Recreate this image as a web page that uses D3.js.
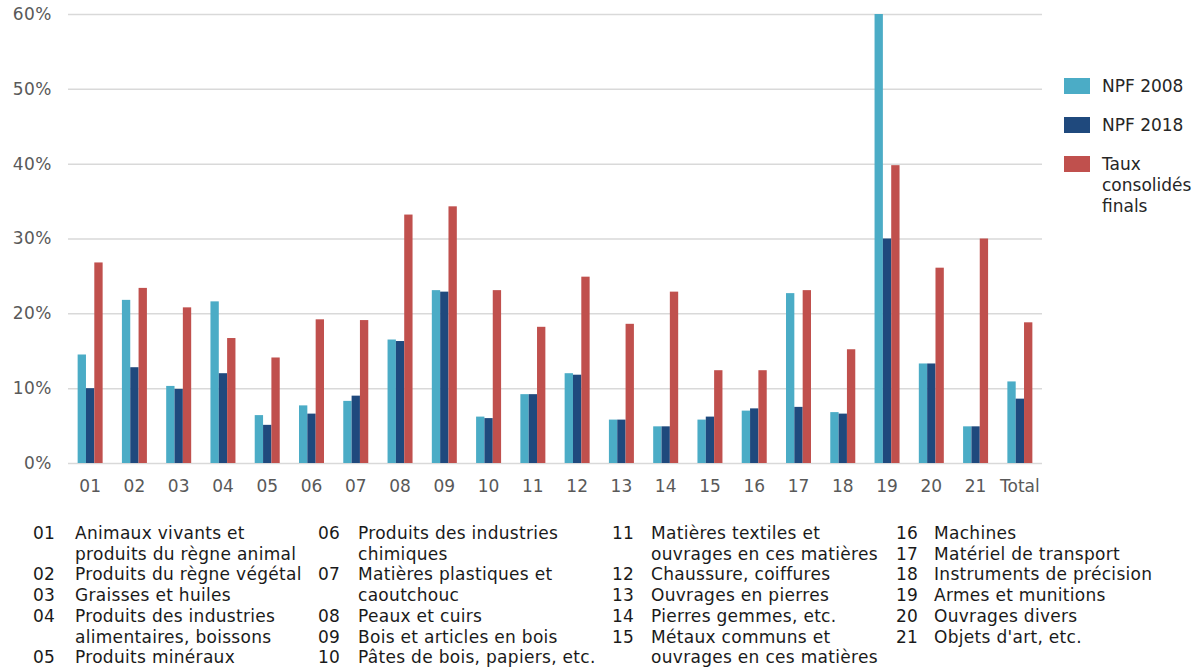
<!DOCTYPE html>
<html>
<head>
<meta charset="utf-8">
<script src="https://cdn.jsdelivr.net/npm/d3@7"></script>
<style>
  html, body { margin: 0; padding: 0; background: #ffffff; }
  svg { display: block; font-family: "DejaVu Sans", Verdana, sans-serif; }
</style>
</head>
<body>
<svg id="chart" width="1203" height="671"></svg>
<script>
// Chapter codes of the tariff nomenclature
const categories = ["01","02","03","04","05","06","07","08","09","10","11","12","13","14","15","16","17","18","19","20","21","Total"];

// Average duties (%) per chapter
const npf2008 = [14.5, 21.8, 10.3, 21.6, 6.4, 7.7, 8.3, 16.5, 23.1, 6.2, 9.2, 12.0, 5.8, 4.9, 5.8, 7.0, 22.7, 6.8, 60.0, 13.3, 4.9, 10.9];
const npf2018 = [10.0, 12.8, 9.9, 12.0, 5.1, 6.6, 9.0, 16.3, 22.9, 6.0, 9.2, 11.8, 5.8, 4.9, 6.2, 7.3, 7.5, 6.6, 30.0, 13.3, 4.9, 8.6];
const tauxConsolides = [26.8, 23.4, 20.8, 16.7, 14.1, 19.2, 19.1, 33.2, 34.3, 23.1, 18.2, 24.9, 18.6, 22.9, 12.4, 12.4, 23.1, 15.2, 39.8, 26.1, 30.0, 18.8];

const seriesNames = ["NPF 2008", "NPF 2018", "Taux consolidés finals"];
const seriesColors = ["#4BACC6", "#1F497D", "#C0504D"];

const yTicks = [0, 10, 20, 30, 40, 50, 60];

// Chapter descriptions shown under the chart, laid out in four columns
const chapterColumns = [
  [["01", ["Animaux vivants et", "produits du règne animal"]],
   ["02", ["Produits du règne végétal"]],
   ["03", ["Graisses et huiles"]],
   ["04", ["Produits des industries", "alimentaires, boissons"]],
   ["05", ["Produits minéraux"]]],
  [["06", ["Produits des industries", "chimiques"]],
   ["07", ["Matières plastiques et", "caoutchouc"]],
   ["08", ["Peaux et cuirs"]],
   ["09", ["Bois et articles en bois"]],
   ["10", ["Pâtes de bois, papiers, etc."]]],
  [["11", ["Matières textiles et", "ouvrages en ces matières"]],
   ["12", ["Chaussure, coiffures"]],
   ["13", ["Ouvrages en pierres"]],
   ["14", ["Pierres gemmes, etc."]],
   ["15", ["Métaux communs et", "ouvrages en ces matières"]]],
  [["16", ["Machines"]],
   ["17", ["Matériel de transport"]],
   ["18", ["Instruments de précision"]],
   ["19", ["Armes et munitions"]],
   ["20", ["Ouvrages divers"]],
   ["21", ["Objets d'art, etc."]]]
];

const svg = d3.select("#chart");
const plot = { left: 68, right: 1042, top: 14, bottom: 463 };

const x0 = d3.scaleBand().domain(categories).range([plot.left, plot.right]).padding(0);
const groupWidth = 25;
const x1 = d3.scaleBand().domain(d3.range(3)).range([0, groupWidth]).padding(0);
const y = d3.scaleLinear().domain([0, 60]).range([plot.bottom, plot.top]);

// Horizontal gridlines and percentage labels
const yAxis = d3.axisLeft(y).tickValues(yTicks).tickSize(-(plot.right - plot.left))
  .tickFormat(d => d + "%").tickPadding(16);
const gy = svg.append("g").attr("transform", `translate(${plot.left},0)`).call(yAxis);
gy.select(".domain").remove();
gy.selectAll(".tick line").attr("stroke", "#d9d9d9").attr("stroke-width", 1.5);
gy.selectAll(".tick text").attr("fill", "#595959").attr("font-size", 17)
  .attr("letter-spacing", 0.5)
  .attr("font-family", "DejaVu Sans, Verdana, sans-serif");

// Bars, clipped to the plotting area
const allSeries = [npf2008, npf2018, tauxConsolides];
const clipId = "plot-clip";
svg.append("clipPath").attr("id", clipId).append("rect")
  .attr("x", plot.left).attr("y", plot.top)
  .attr("width", plot.right - plot.left).attr("height", plot.bottom - plot.top);

const groups = svg.append("g").attr("clip-path", `url(#${clipId})`)
  .selectAll("g.group").data(categories).join("g")
  .attr("class", "group")
  .attr("transform", d => `translate(${x0(d) + (x0.bandwidth() - groupWidth) / 2},0)`);

groups.selectAll("rect").data((d, i) => allSeries.map((s, k) => ({ k, v: s[i] })))
  .join("rect")
  .attr("x", d => x1(d.k))
  .attr("width", x1.bandwidth())
  .attr("y", d => y(d.v))
  .attr("height", d => y(0) - y(d.v))
  .attr("fill", d => seriesColors[d.k]);

// Category axis
const xAxis = d3.axisBottom(x0).tickSize(0).tickPadding(17);
const gx = svg.append("g").attr("transform", `translate(0,${plot.bottom})`).call(xAxis);
gx.select(".domain").remove();
gx.selectAll(".tick text").attr("fill", "#595959").attr("font-size", 17)
  .attr("font-family", "DejaVu Sans, Verdana, sans-serif");

// Legend
const legend = svg.append("g").attr("transform", "translate(1064,78)");
const legendLines = [["NPF 2008"], ["NPF 2018"], ["Taux", "consolidés", "finals"]];
legendLines.forEach((lines, k) => {
  const g = legend.append("g").attr("transform", `translate(0,${k * 39})`);
  g.append("rect").attr("width", 26).attr("height", 16).attr("fill", seriesColors[k]);
  lines.forEach((t, j) => {
    g.append("text").attr("x", 38).attr("y", 14 + j * 21)
      .attr("font-size", 17).attr("fill", "#262626").text(t);
  });
});

// Chapter descriptions
const colX = [[33, 75], [318, 358], [612, 651], [896, 934]];
const rowStep = 20.7;
chapterColumns.forEach((col, c) => {
  let row = 0;
  const g = svg.append("g").attr("font-size", 17).attr("fill", "#1a1a1a")
    .attr("letter-spacing", 0.3);
  col.forEach(([code, lines]) => {
    g.append("text").attr("x", colX[c][0]).attr("y", 539 + row * rowStep).text(code);
    lines.forEach(t => {
      g.append("text").attr("x", colX[c][1]).attr("y", 539 + row * rowStep).text(t);
      row++;
    });
  });
});
</script>
</body>
</html>
